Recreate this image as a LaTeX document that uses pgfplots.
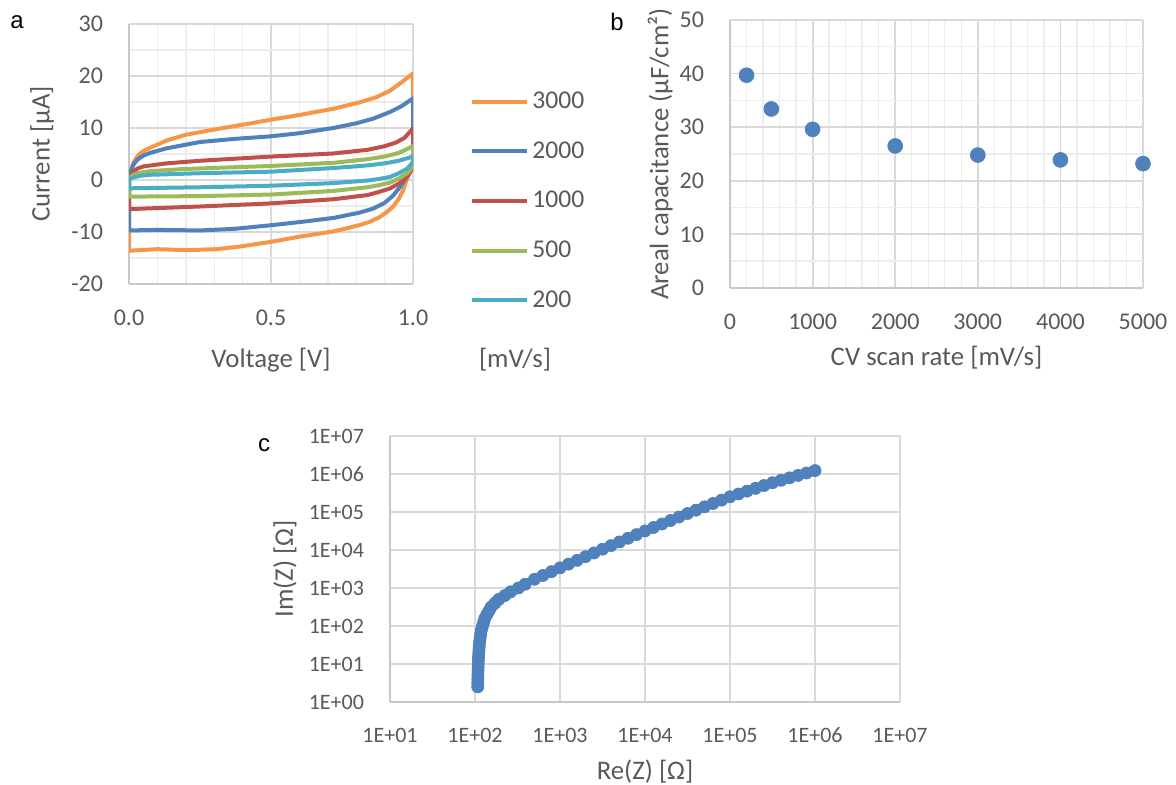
\documentclass[border=0pt]{standalone}
\usepackage{pgfplots}
\pgfplotsset{compat=1.18}
\usepackage{fontspec}
\setmainfont{Carlito}
\newfontfamily\panelfont{Liberation Sans}

\definecolor{cOr}{HTML}{F79646}
\definecolor{cBl}{HTML}{4F81BD}
\definecolor{cRd}{HTML}{C0504D}
\definecolor{cGr}{HTML}{9BBB59}
\definecolor{cCy}{HTML}{4BACC6}
\definecolor{txt}{HTML}{595959}
\definecolor{gmaj}{HTML}{D9D9D9}
\definecolor{gmin}{HTML}{EDEDED}
\definecolor{axl}{HTML}{C8C8C8}

\pgfplotsset{
  xl/.style={
    scale only axis,
    axis x line*=bottom, axis y line*=left,
    axis line style={draw=axl, line width=0.9pt, -},
    major tick length=0pt, minor tick length=0pt,
    major grid style={draw=gmaj, line width=0.9pt},
    minor grid style={draw=gmin, line width=0.7pt},
    ticklabel style={font=\fontsize{12}{14}\selectfont, text=txt},
    label style={font=\fontsize{13.4}{15}\selectfont, text=txt},
    xticklabel style={yshift=-9.5pt},
    yticklabel style={xshift=-9.5pt},
  },
  cv/.style={line width=2pt, line join=round, no marks},
}

\begin{document}
\begin{tikzpicture}
\path[use as bounding box] (0,0) rectangle (588pt,392.5pt);

% panel a: cyclic voltammograms
\begin{axis}[xl,
  at={(64.5pt,250.5pt)}, anchor=south west,
  width=142pt, height=130pt,
  xmin=0, xmax=1, ymin=-20, ymax=30,
  xtick={0,0.5,1}, xticklabels={0.0,0.5,1.0},
  ytick={-20,-10,0,10,20,30}, yticklabels={-20,-10,0,10,20,30},
  minor x tick num=4, minor y tick num=1,
  grid=both,
  xlabel={Voltage [V]},
  ylabel={Current [µA]},
  xlabel style={at={(axis description cs:0.5,-0.292)}, anchor=center},
  ylabel style={at={(axis description cs:-0.306,0.5)}, anchor=center},
  legend cell align=left,
  legend style={at={(1.2007,0.319)}, anchor=west, draw=none, fill=none,
    inner sep=0pt, row sep=12pt,
    font=\fontsize{12.8}{14}\selectfont, text=txt,
    nodes={inner sep=1.5pt}},
  legend image code/.code={\draw[#1] (0pt,0pt) -- (27.5pt,0pt);},
]
\addplot[cv, cOr] coordinates {
 (0,0) (0.006,1.8) (0.015,3.2) (0.026,4.3) (0.039,5.1) (0.055,5.7) (0.074,6.2) (0.1,6.8)
 (0.133,7.6) (0.2,8.7) (0.31,9.8) (0.43,10.9) (0.5,11.6) (0.6,12.5) (0.72,13.7)
 (0.81,14.9) (0.87,15.9) (0.92,17.2) (0.96,18.8) (1.0,20.5)
 (1.0,3.8) (0.995,2.8) (0.99,1.9) (0.98,0.4) (0.966,-1.9) (0.95,-3.6) (0.93,-5.1)
 (0.905,-6.3) (0.88,-7.2) (0.85,-8.0) (0.81,-8.7) (0.72,-9.9) (0.6,-10.9) (0.5,-11.9)
 (0.39,-12.8) (0.31,-13.3) (0.2,-13.5) (0.1,-13.3) (0,-13.6) (0,0)
};
\addlegendentry{3000}
\addplot[cv, cBl] coordinates {
 (0,0) (0.006,1.6) (0.015,2.9) (0.026,3.7) (0.039,4.3) (0.055,4.8) (0.074,5.2) (0.1,5.6)
 (0.133,6.1) (0.25,7.3) (0.37,7.9) (0.5,8.4) (0.6,9.0) (0.72,10.0) (0.8,10.9)
 (0.86,11.8) (0.92,13.1) (0.96,14.2) (1.0,15.7)
 (1.0,3.2) (0.995,2.5) (0.99,1.9) (0.975,0.4) (0.955,-1.3) (0.93,-3.0) (0.9,-4.4)
 (0.86,-5.5) (0.81,-6.3) (0.72,-7.3) (0.6,-8.1) (0.5,-8.7) (0.37,-9.4) (0.25,-9.7)
 (0.1,-9.6) (0,-9.7) (0,0)
};
\addlegendentry{2000}
\addplot[cv, cRd] coordinates {
 (0,0) (0.006,0.9) (0.015,1.6) (0.03,2.2) (0.05,2.6) (0.09,2.9) (0.133,3.2) (0.25,3.7)
 (0.5,4.5) (0.72,5.1) (0.84,5.8) (0.9,6.5) (0.94,7.2) (0.97,8.1) (1.0,9.9)
 (1.0,2.6) (0.99,1.5) (0.98,0.6) (0.95,-0.7) (0.92,-1.6) (0.88,-2.3) (0.84,-2.9)
 (0.72,-3.7) (0.5,-4.5) (0.25,-5.1) (0,-5.6) (0,0)
};
\addlegendentry{1000}
\addplot[cv, cGr] coordinates {
 (0,0) (0.006,0.6) (0.015,1.0) (0.04,1.4) (0.074,1.7) (0.19,2.1) (0.5,2.7) (0.72,3.3)
 (0.84,4.0) (0.9,4.5) (0.95,5.2) (1.0,6.5)
 (1.0,2.9) (0.99,2.0) (0.98,1.3) (0.95,0.3) (0.92,-0.5) (0.88,-1.0) (0.84,-1.4)
 (0.72,-2.1) (0.5,-2.8) (0.25,-3.1) (0,-3.2) (0,0)
};
\addlegendentry{500}
\addplot[cv, cCy] coordinates {
 (0,0) (0.006,0.3) (0.015,0.5) (0.04,0.8) (0.074,1.0) (0.25,1.3) (0.5,1.6) (0.72,2.3)
 (0.84,2.8) (0.9,3.2) (0.95,3.7) (1.0,4.5)
 (1.0,3.5) (0.99,2.8) (0.98,2.2) (0.95,1.3) (0.92,0.6) (0.88,0.2) (0.84,-0.1)
 (0.72,-0.6) (0.5,-1.1) (0.25,-1.4) (0,-1.6) (0,0)
};
\addlegendentry{200}
\end{axis}
\node[font=\fontsize{13.4}{15}\selectfont, text=txt] at (257.5pt,212.5pt) {[mV/s]};
\node[font=\panelfont\fontsize{12}{14}\selectfont] at (8.5pt,381.5pt) {a};

% panel b: areal capacitance vs scan rate
\begin{axis}[xl,
  at={(365pt,248.5pt)}, anchor=south west,
  width=206.5pt, height=134pt,
  xmin=0, xmax=5000, ymin=0, ymax=50,
  xtick={0,1000,...,5000}, xticklabels={0,1000,2000,3000,4000,5000},
  ytick={0,10,...,50}, yticklabels={0,10,20,30,40,50},
  minor x tick num=4, minor y tick num=1,
  grid=both,
  xlabel={CV scan rate [mV/s]},
  ylabel={Areal capacitance (µF/cm²)},
  xlabel style={at={(axis description cs:0.5,-0.261)}, anchor=center},
  ylabel style={at={(axis description cs:-0.169,0.5)}, anchor=center},
]
\addplot[only marks, mark=*, mark size=3.7pt, mark options={fill=cBl, draw=cBl}] coordinates {
 (200,39.7) (500,33.4) (1000,29.6) (2000,26.5) (3000,24.8) (4000,23.9) (5000,23.2)
};
\end{axis}
\node[font=\panelfont\fontsize{12}{14}\selectfont] at (308.5pt,381.5pt) {b};

% panel c: impedance, log-log
\begin{axis}[xl,
  at={(195pt,41.5pt)}, anchor=south west,
  width=255pt, height=133pt,
  ticklabel style={font=\fontsize{11}{13}\selectfont},
  xmode=log, ymode=log,
  xmin=10, xmax=1e7, ymin=1, ymax=1e7,
  xtick={1e1,1e2,1e3,1e4,1e5,1e6,1e7},
  xticklabels={1E+01,1E+02,1E+03,1E+04,1E+05,1E+06,1E+07},
  ytick={1e0,1e1,1e2,1e3,1e4,1e5,1e6,1e7},
  yticklabels={1E+00,1E+01,1E+02,1E+03,1E+04,1E+05,1E+06,1E+07},
  minor xtick={}, minor ytick={},
  grid=major,
  xlabel={Re(Z) [Ω]},
  ylabel={Im(Z) [Ω]},
  xlabel style={at={(axis description cs:0.5,-0.263)}, anchor=center},
  ylabel style={at={(axis description cs:-0.206,0.5)}, anchor=center},
]
\addplot[only marks, mark=*, mark size=3pt, mark options={fill=cBl, draw=cBl}] coordinates {
 (107.6,2.51) (107.8,3.16) (108.0,3.98) (108.1,5.01) (108.5,6.31) (108.8,7.94)
 (109.1,10.0) (109.6,12.6) (110.2,15.8) (110.7,20.0) (111.6,25.1) (112.5,31.6)
 (113.5,39.8) (115.3,50.1) (117.0,63.1) (118.9,79.4) (122.6,100) (126.4,126)
 (130.3,158) (138.0,200) (146.2,251) (154.9,316) (171.8,398) (190.5,501)
 (223.9,631) (263.0,794) (323.6,1000) (389.0,1259)
 (501,1698) (631,2138) (794,2692) (1000,3388) (1259,4246) (1585,5321)
 (1995,6668) (2512,8356) (3162,10471) (3981,13062) (5012,16293) (6310,20324)
 (7943,25351) (10000,31623) (12589,39084) (15849,48306) (19953,59704)
 (25119,73790) (31623,91201) (39811,111686) (50119,136773) (63096,167494)
 (79433,205116) (100000,251189) (125893,297852) (158489,353183) (199526,418794)
 (251189,496592) (316228,588844) (398107,682339) (501187,790679) (630957,916220)
 (794328,1061696) (1000000,1230269)
};
\end{axis}
\node[font=\panelfont\fontsize{12}{14}\selectfont] at (132pt,170pt) {c};
\end{tikzpicture}
\end{document}
